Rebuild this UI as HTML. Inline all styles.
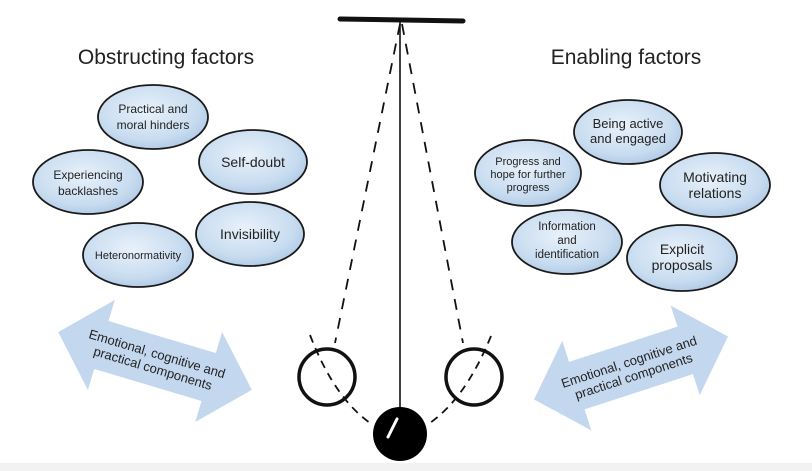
<!DOCTYPE html>
<html><head><meta charset="utf-8"><style>
html,body{margin:0;padding:0;background:#fff}
svg{display:block}
text{font-family:"Liberation Sans",sans-serif;fill:#222}
</style></head><body>
<svg width="812" height="471" viewBox="0 0 812 471" xmlns="http://www.w3.org/2000/svg">
<defs>
<radialGradient id="g" cx="0.45" cy="0.4" r="0.65">
<stop offset="0" stop-color="#e8f1fa"/><stop offset="0.7" stop-color="#c8dcf0"/><stop offset="1" stop-color="#abc6e3"/>
</radialGradient>
</defs>
<rect x="0" y="463" width="812" height="8" fill="#f2f2f2"/>
<text x="166" y="64" font-size="21" text-anchor="middle">Obstructing factors</text>
<text x="626" y="64" font-size="21" text-anchor="middle">Enabling factors</text>
<g stroke="#1a1a1a" stroke-width="1.8" fill="url(#g)">
<ellipse cx="153" cy="117" rx="55" ry="32"/>
<ellipse cx="253" cy="162" rx="54" ry="32"/>
<ellipse cx="88" cy="182" rx="55" ry="32"/>
<ellipse cx="250" cy="234" rx="54" ry="32"/>
<ellipse cx="138" cy="255" rx="55" ry="32"/>
<ellipse cx="628" cy="132" rx="54" ry="32"/>
<ellipse cx="528" cy="173" rx="53" ry="33"/>
<ellipse cx="715" cy="185" rx="55" ry="32"/>
<ellipse cx="567" cy="242" rx="55" ry="32"/>
<ellipse cx="682" cy="258" rx="55" ry="33"/>
</g>
<g font-size="12" text-anchor="middle">
<text x="153" y="113">Practical and</text><text x="153" y="129">moral hinders</text>
<text x="253" y="167" font-size="14">Self-doubt</text>
<text x="88" y="179">Experiencing</text><text x="88" y="195">backlashes</text>
<text x="250" y="239" font-size="14">Invisibility</text>
<text x="138" y="259" font-size="11">Heteronormativity</text>
<text x="628" y="128" font-size="13">Being active</text><text x="628" y="143" font-size="13">and engaged</text>
<text x="528" y="165" font-size="11">Progress and</text><text x="528" y="178" font-size="11">hope for further</text><text x="528" y="191" font-size="11">progress</text>
<text x="715" y="182" font-size="14">Motivating</text><text x="715" y="198" font-size="14">relations</text>
<text x="567" y="230" font-size="11.5">Information</text><text x="567" y="244" font-size="11.5">and</text><text x="567" y="258" font-size="11.5">identification</text>
<text x="682" y="254" font-size="14">Explicit</text><text x="682" y="270" font-size="14">proposals</text>
</g>
<g transform="translate(155,361) rotate(16.6)">
<polygon points="-101,0 -56,-47 -56,-25 56,-25 56,-47 101,0 56,47 56,25 -56,25 -56,47" fill="#c3d7ef"/>
<text x="0" y="-3" font-size="13" text-anchor="middle">Emotional, cognitive and</text>
<text x="0" y="12" font-size="13" text-anchor="middle">practical components</text>
</g>
<g transform="translate(631,368) rotate(-18)">
<polygon points="-102,0 -57,-47 -57,-25 57,-25 57,-47 102,0 57,47 57,25 -57,25 -57,47" fill="#c3d7ef"/>
<text x="0" y="-2" font-size="13" text-anchor="middle">Emotional, cognitive and</text>
<text x="0" y="13" font-size="13" text-anchor="middle">practical components</text>
</g>
<line x1="340" y1="19" x2="463" y2="21" stroke="#111" stroke-width="5" stroke-linecap="round"/>
<line x1="400" y1="21" x2="400" y2="408" stroke="#111" stroke-width="1.6"/>
<g stroke="#111" stroke-width="1.8" fill="none">
<line x1="400" y1="24" x2="335" y2="343" stroke-dasharray="11,9"/>
<line x1="402" y1="24" x2="463" y2="343" stroke-dasharray="11,9"/>
<path d="M310 335 Q335 400 373 425" stroke-dasharray="8,6"/>
<path d="M491 336 Q465 400 427 425" stroke-dasharray="8,6"/>
</g>
<circle cx="327" cy="377" r="28" fill="none" stroke="#111" stroke-width="3.5"/>
<circle cx="474" cy="377" r="28" fill="none" stroke="#111" stroke-width="3.5"/>
<circle cx="400" cy="434" r="27" fill="#000"/>
<line x1="397" y1="419" x2="388" y2="437" stroke="#fff" stroke-width="3" stroke-linecap="round"/>
</svg>
</body></html>
